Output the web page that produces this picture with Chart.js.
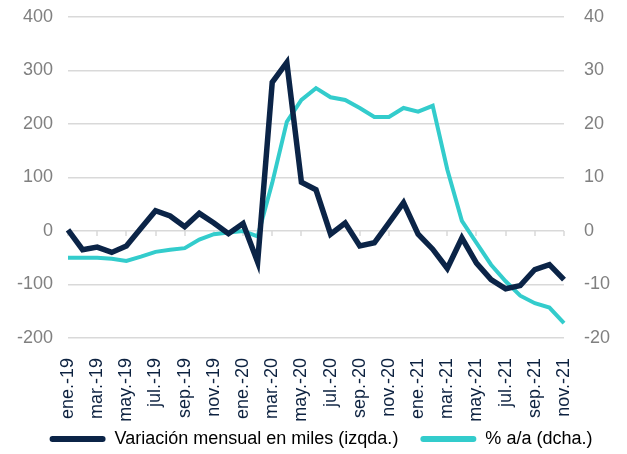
<!DOCTYPE html>
<html>
<head>
<meta charset="utf-8">
<script src="https://cdn.jsdelivr.net/npm/chart.js@4.4.1/dist/chart.umd.min.js"></script>
<style>
  body { margin: 0; background: #fff; }
  #wrap { width: 627px; height: 454px; }
</style>
</head>
<body>
<div id="wrap"><canvas id="chart" width="627" height="454"></canvas></div>
<script>
const months = [
    'ene.-19', 'feb.-19', 'mar.-19', 'abr.-19', 'may.-19', 'jun.-19', 'jul.-19', 'ago.-19', 'sep.-19', 'oct.-19', 'nov.-19', 'dic.-19',
    'ene.-20', 'feb.-20', 'mar.-20', 'abr.-20', 'may.-20', 'jun.-20', 'jul.-20', 'ago.-20', 'sep.-20', 'oct.-20', 'nov.-20', 'dic.-20',
    'ene.-21', 'feb.-21', 'mar.-21', 'abr.-21', 'may.-21', 'jun.-21', 'jul.-21', 'ago.-21', 'sep.-21', 'oct.-21', 'nov.-21'
];

// variación mensual en miles (eje izquierdo)
const variacionMensual = [
    2, -35, -30, -40, -28, 5, 38, 28, 8, 33, 15, -5,
    14, -58, 278, 315, 91, 77, -6, 15, -28, -22, 15, 53,
    -6, -34, -70, -13, -60, -91, -108, -102, -72, -63, -91
];

// % a/a (eje derecho)
const tasaAnual = [
    -5, -5, -5, -5.2, -5.6, -4.8, -3.9, -3.5, -3.2, -1.6, -0.6, -0.3,
    0, -1, 9, 20.4, 24.5, 26.7, 25, 24.5, 23, 21.3, 21.3, 23,
    22.3, 23.4, 11.5, 1.9, -2.2, -6.3, -9.4, -12.1, -13.5, -14.3, -17.2
];

const leftTicks = [-200, -100, 0, 100, 200, 300, 400];
const rightTicks = [-20, -10, 0, 10, 20, 30, 40];

const navy = '#0b2447';
const cyan = '#33cccc';
const gridGrey = '#d9d9d9';
const labelGrey = '#808080';

// small tick marks hanging from the zero line, every second month
const zeroTicks = {
    id: 'zeroTicks',
    afterLayout(chart) {
        // let the rotated month labels run a bit into the legend band instead of being clipped
        chart.scales.x.bottom += 14;
    },
    beforeDatasetsDraw(chart) {
        const ctx = chart.ctx;
        const x = chart.scales.x;
        const y0 = chart.scales.yLeft.getPixelForValue(0);
        ctx.save();
        ctx.strokeStyle = gridGrey;
        ctx.lineWidth = 1.5;
        for (let i = 0; i < months.length; i += 2) {
            const px = Math.round(x.getPixelForValue(i));
            ctx.beginPath();
            ctx.moveTo(px, y0);
            ctx.lineTo(px, y0 + 5);
            ctx.stroke();
        }
        ctx.restore();
    }
};

// fixed axis sizes so the plot area lands where the original one is
function fitY(width) {
    return s => {
        s.width = width;
        s.paddingTop = 0;
        s.paddingBottom = 0;
    };
}

Chart.defaults.font.family = '"Liberation Sans", Arial, sans-serif';

new Chart(document.getElementById('chart').getContext('2d'), {
    type: 'line',
    data: {
        labels: months,
        datasets: [{
            label: 'Variación mensual en miles (izqda.)',
            data: variacionMensual,
            yAxisID: 'yLeft',
            borderColor: navy,
            backgroundColor: navy,
            borderWidth: 5.5,
            pointRadius: 0,
            tension: 0,
            order: 1
        }, {
            label: '% a/a (dcha.)',
            data: tasaAnual,
            yAxisID: 'yRight',
            borderColor: cyan,
            backgroundColor: cyan,
            borderWidth: 4,
            pointRadius: 0,
            tension: 0,
            order: 2
        }]
    },
    options: {
        responsive: false,
        animation: false,
        layout: { padding: { left: 15, right: 0, top: 17, bottom: -4 } },
        plugins: {
            tooltip: { enabled: false },
            legend: {
                position: 'bottom',
                labels: {
                    color: '#0d2240',
                    font: { size: 18 },
                    boxWidth: 56,
                    boxHeight: 6,
                    padding: 22,
                    generateLabels(chart) {
                        return chart.data.datasets.map((ds, i) => ({
                            text: ds.label,
                            fillStyle: ds.borderColor,
                            strokeStyle: ds.borderColor,
                            lineWidth: 0,
                            borderRadius: 3,
                            datasetIndex: i
                        }));
                    }
                }
            }
        },
        scales: {
            x: {
                offset: false,
                grid: { display: false },
                border: { display: false },
                ticks: {
                    autoSkip: false,
                    maxRotation: 90,
                    minRotation: 90,
                    padding: 12,
                    color: '#0d2240',
                    font: { size: 18 },
                    callback: (v, i) => (i % 2 === 0 ? months[i] : '')
                },
                afterFit: s => {
                    s.height = 70;
                    s.paddingLeft = 0;
                    s.paddingRight = 0;
                }
            },
            yLeft: {
                position: 'left',
                min: -200,
                max: 400,
                afterBuildTicks: s => { s.ticks = leftTicks.map(v => ({ value: v })); },
                grid: { color: gridGrey, lineWidth: 1.5, drawTicks: false },
                border: { display: false },
                ticks: { color: labelGrey, font: { size: 18 }, padding: 15 },
                afterFit: fitY(53)
            },
            yRight: {
                position: 'right',
                min: -20,
                max: 40,
                afterBuildTicks: s => { s.ticks = rightTicks.map(v => ({ value: v })); },
                grid: { display: false, drawTicks: false },
                border: { display: false },
                ticks: { color: labelGrey, font: { size: 18 }, padding: 20 },
                afterFit: fitY(63)
            }
        }
    },
    plugins: [zeroTicks]
});
</script>
</body>
</html>
